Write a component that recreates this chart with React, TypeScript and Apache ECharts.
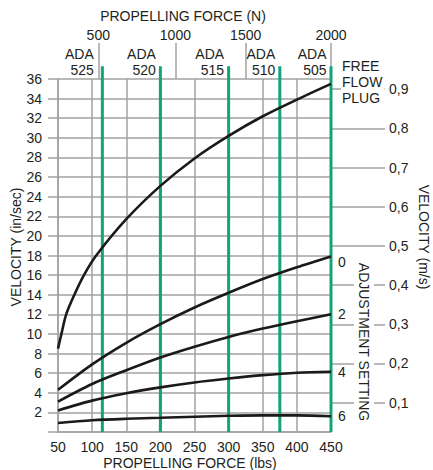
import React, { useEffect, useRef } from 'react';
import * as echarts from 'echarts';

// ---- data ----
const forceTicksLbs = [50, 100, 150, 200, 250, 300, 350, 400, 450];
const velocityTicksIn = [2, 4, 6, 8, 10, 12, 14, 16, 18, 20, 22, 24, 26, 28, 30, 32, 34, 36];
const velocityTicksMs = [0.1, 0.2, 0.3, 0.4, 0.5, 0.6, 0.7, 0.8, 0.9];
const velocityMsAxisMin = 0.025;
const velocityMsAxisMax = 0.926;
const topTickN = ['500', '1000', '1500', '2000'];
const topTickAtLbs = [109, 222, 325, 450];

const adaModels = ['525', '520', '515', '510', '505'];
const adaLimitLbs = [115, 200, 300, 375, 450];
const adaLineTop = 37.3;

const freeFlowPlug = [[50, 8.5], [55, 10.0], [62, 12.0], [74, 14.0], [88, 16.0], [106, 18.0], [150, 21.7], [200, 25.1], [250, 27.9], [300, 30.2], [350, 32.2], [400, 33.9], [450, 35.5]];
const setting0 = [[50, 4.3], [100, 6.9], [150, 9.1], [200, 11.0], [250, 12.7], [300, 14.2], [350, 15.6], [400, 16.8], [450, 17.9]];
const setting2 = [[50, 3.1], [100, 4.9], [150, 6.3], [200, 7.6], [250, 8.7], [300, 9.7], [350, 10.55], [400, 11.3], [450, 12.0]];
const setting4 = [[50, 2.2], [100, 3.2], [150, 3.95], [200, 4.55], [250, 5.05], [300, 5.45], [350, 5.8], [400, 6.05], [450, 6.15]];
const setting6 = [[50, 0.92], [100, 1.2], [150, 1.35], [200, 1.45], [250, 1.56], [300, 1.65], [350, 1.7], [400, 1.7], [450, 1.6]];

const curves = [
  { name: 'FREE\nFLOW\nPLUG', data: freeFlowPlug },
  { name: '0', data: setting0 },
  { name: '2', data: setting2 },
  { name: '4', data: setting4 },
  { name: '6', data: setting6 },
];

const FONT_FAMILY = '"Liberation Sans", Arial, Helvetica, sans-serif';
const TEXT = '#231f20';
const GREY = '#a2a2a2';
const GREEN = '#12a37b';
const FS = 14;

export default function App() {
  const ref = useRef<HTMLDivElement>(null);
  useEffect(() => {
    const chart = echarts.init(ref.current!, null, { renderer: 'svg' });

    const greenSeries = adaLimitLbs.map((x, i) => ({
      type: 'line',
      name: 'ADA ' + adaModels[i],
      data: [[x, 0], [x, adaLineTop]],
      clip: false,
      silent: true,
      symbol: 'none',
      z: 2,
      lineStyle: { color: GREEN, width: 3 },
    }));

    const curveSeries = curves.map((c, i) => ({
      type: 'line',
      name: c.name,
      data: c.data,
      smooth: 0.3,
      symbol: 'none',
      z: 4,
      lineStyle: { color: '#1a1a1a', width: 2.6 },
      endLabel: i === 0
        ? {
            show: true,
            formatter: c.name,
            distance: 10,
            offset: [0, -2],
            color: TEXT,
            fontFamily: FONT_FAMILY,
            fontSize: FS,
            lineHeight: 16,
            align: 'left',
            backgroundColor: '#fff',
            padding: [0, 2, 0, 1],
          }
        : {
            show: true,
            formatter: c.name,
            distance: 7,
            offset: i === 1 ? [0, 6] : [0, 0],
            color: TEXT,
            fontFamily: FONT_FAMILY,
            fontSize: FS,
          },
    }));

    chart.setOption({
      animation: false,
      backgroundColor: '#fff',
      textStyle: { fontFamily: FONT_FAMILY, color: TEXT },
      grid: { left: 58, right: 102, top: 79, bottom: 38, containLabel: false },
      xAxis: [
        {
          type: 'value',
          min: forceTicksLbs[0],
          max: forceTicksLbs[forceTicksLbs.length - 1],
          interval: 50,
          position: 'bottom',
          axisLine: { show: true, lineStyle: { color: GREY, width: 1.5 } },
          axisTick: { show: false },
          axisLabel: { color: TEXT, fontSize: FS, fontFamily: FONT_FAMILY, margin: 8 },
          splitLine: { show: true, lineStyle: { color: GREY, width: 1.5 } },
        },
        {
          type: 'value',
          min: forceTicksLbs[0],
          max: forceTicksLbs[forceTicksLbs.length - 1],
          position: 'top',
          axisLine: { show: false },
          axisTick: {
            show: true,
            customValues: topTickAtLbs,
            length: 36,
            lineStyle: { color: GREY, width: 1.5 },
          },
          axisLabel: {
            show: true,
            customValues: topTickAtLbs,
            margin: 37,
            color: TEXT,
            fontSize: FS,
            fontFamily: FONT_FAMILY,
            formatter: (v: number) => {
              let best = 0;
              topTickAtLbs.forEach((t, i) => {
                if (Math.abs(t - v) < Math.abs(topTickAtLbs[best] - v)) best = i;
              });
              return topTickN[best];
            },
          },
          splitLine: { show: false },
        },
      ],
      yAxis: [
        {
          type: 'value',
          min: 0,
          max: velocityTicksIn[velocityTicksIn.length - 1],
          interval: 2,
          position: 'left',
          axisLine: { show: true, lineStyle: { color: GREY, width: 1.5 } },
          axisTick: { show: true, length: 10, lineStyle: { color: GREY, width: 1.5 } },
          axisLabel: {
            color: TEXT,
            fontSize: FS,
            fontFamily: FONT_FAMILY,
            margin: 16,
            formatter: (v: number) => (velocityTicksIn.indexOf(v) >= 0 ? String(v) : ''),
          },
          splitLine: { show: true, lineStyle: { color: GREY, width: 1.5 } },
        },
        {
          type: 'value',
          min: velocityMsAxisMin,
          max: velocityMsAxisMax,
          position: 'right',
          axisLine: { show: false },
          axisTick: {
            show: true,
            customValues: velocityTicksMs,
            length: 54,
            lineStyle: { color: GREY, width: 1.5 },
          },
          axisLabel: {
            show: true,
            customValues: velocityTicksMs,
            margin: 58,
            color: TEXT,
            fontSize: FS,
            fontFamily: FONT_FAMILY,
            formatter: (v: number) => v.toFixed(1).replace('.', ','),
          },
          splitLine: { show: false },
        },
      ],
      series: [...greenSeries, ...curveSeries],
    });

    const px = (v: number) => chart.convertToPixel({ xAxisIndex: 0 }, v) as number;
    const topTickPx = topTickAtLbs.map(px);
    const font = `${FS}px ${FONT_FAMILY}`;

    const adaLabels = adaLimitLbs.map((x, i) => {
      const g = px(x);
      let anchor = g;
      topTickPx.forEach((t) => {
        if (t < g - 0.5 && t > g - 10) anchor = t;
      });
      return {
        type: 'text',
        x: anchor - 4.5,
        y: 62,
        z: 100,
        style: {
          text: 'ADA\n' + adaModels[i],
          font,
          fill: TEXT,
          align: 'right',
          verticalAlign: 'middle',
          lineHeight: 16,
        },
      };
    });

    chart.setOption({
      graphic: [
        ...adaLabels,
        {
          type: 'text', x: 183, y: 16, z: 100,
          style: { text: 'PROPELLING FORCE (N)', font, fill: TEXT, align: 'center', verticalAlign: 'middle' },
        },
        {
          type: 'text', x: 190, y: 463, z: 100,
          style: { text: 'PROPELLING FORCE (lbs)', font, fill: TEXT, align: 'center', verticalAlign: 'middle' },
        },
        {
          type: 'text', x: 16, y: 247, z: 100, rotation: Math.PI / 2,
          style: { text: 'VELOCITY (in/sec)', font, fill: TEXT, align: 'center', verticalAlign: 'middle' },
        },
        {
          type: 'text', x: 424, y: 237, z: 100, rotation: -Math.PI / 2,
          style: { text: 'VELOCITY (m/s)', font, fill: TEXT, align: 'center', verticalAlign: 'middle' },
        },
        {
          type: 'text', x: 364, y: 342, z: 100, rotation: -Math.PI / 2,
          style: {
            text: 'ADJUSTMENT SETTING', font, fill: TEXT, align: 'center', verticalAlign: 'middle',
            backgroundColor: '#fff', padding: [3, 2, 3, 2],
          },
        },
      ],
    });

    return () => chart.dispose();
  }, []);
  return <div ref={ref} style={{ position: 'fixed', left: 0, top: 0, width: 433, height: 470 }} />;
}
